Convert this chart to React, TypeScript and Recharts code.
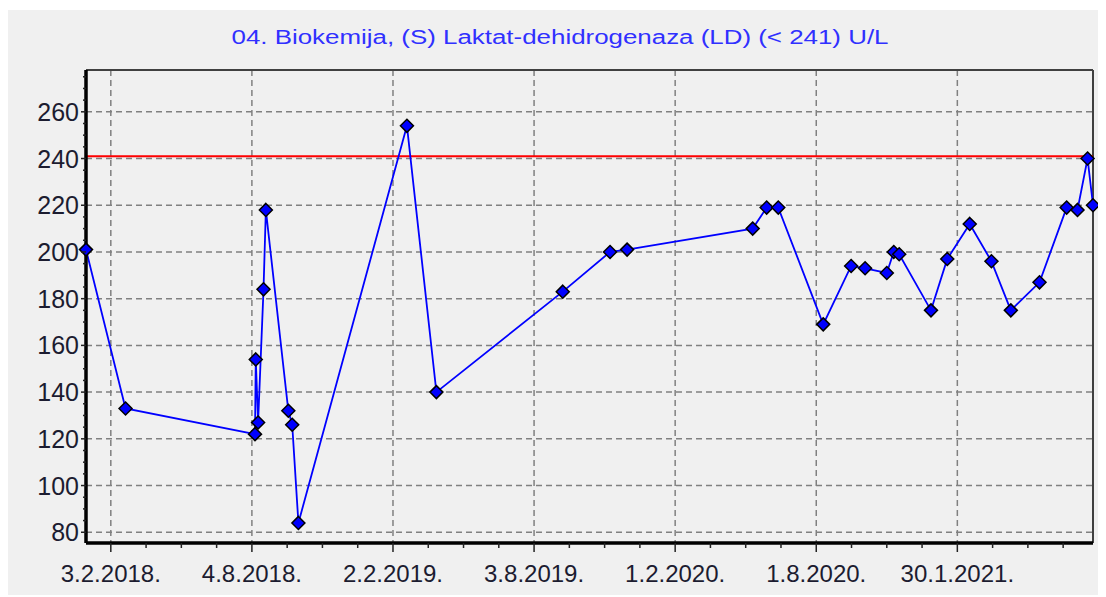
import React from "react";
import {
  CartesianGrid,
  Line,
  LineChart,
  ReferenceLine,
  XAxis,
  YAxis,
} from "recharts";

const title = "04. Biokemija, (S) Laktat-dehidrogenaza (LD) (< 241) U/L";
const upperLimit = 241;

const sampleDates = [
  "2018-01-02", "2018-02-22", "2018-08-08", "2018-08-09", "2018-08-12",
  "2018-08-19", "2018-08-22", "2018-09-20", "2018-09-25", "2018-10-03",
  "2019-02-20", "2019-03-30", "2019-09-09", "2019-11-09", "2019-12-01",
  "2020-05-11", "2020-05-29", "2020-06-13", "2020-08-10", "2020-09-15",
  "2020-10-03", "2020-10-31", "2020-11-09", "2020-11-16", "2020-12-27",
  "2021-01-17", "2021-02-15", "2021-03-15", "2021-04-09", "2021-05-16",
  "2021-06-20", "2021-07-04", "2021-07-17", "2021-07-24",
];
const ldValues = [
  201, 133, 122, 154, 127, 184, 218, 132, 126, 84,
  254, 140, 183, 200, 201, 210, 219, 219, 169, 194,
  193, 191, 200, 199, 175, 197, 212, 196, 175, 187,
  219, 218, 240, 220,
];

const majorTickDates = [
  "2018-02-03", "2018-08-04", "2019-02-02", "2019-08-03",
  "2020-02-01", "2020-08-01", "2021-01-30",
];
const yMajorTicks = [80, 100, 120, 140, 160, 180, 200, 220, 240, 260];
const yDomain = [75.4, 277.9];

const toTime = (s: string) => {
  const [y, m, d] = s.split("-").map(Number);
  return Date.UTC(y, m - 1, d);
};

const data = sampleDates.map((d, i) => ({ t: toTime(d), value: ldValues[i] }));
const majorTimes = majorTickDates.map(toTime);
const majorSet = new Set(majorTimes);
const tMin = data[0].t;
const tMax = data[data.length - 1].t;

// minor ticks split each major interval in 4
const step = majorTimes[1] - majorTimes[0];
const xTicks: number[] = [];
for (let t = majorTimes[0] - step; t <= tMax; t += step / 4) {
  if (t >= tMin) xTicks.push(t);
}
const yTicks: number[] = [];
for (let v = 80; v <= 275; v += 5) yTicks.push(v);

const formatDate = (t: number) => {
  const d = new Date(t);
  return `${d.getUTCDate()}.${d.getUTCMonth() + 1}.${d.getUTCFullYear()}.`;
};

const font = "'Liberation Sans', Arial, sans-serif";

const XTick = (props: any) => {
  const { x, y, payload } = props;
  const major = majorSet.has(payload.value);
  return (
    <g>
      <line x1={x} x2={x} y1={y} y2={y + (major ? 9 : 5)} stroke="#222" strokeWidth={1.5} />
      {major && (
        <text x={x} y={y + 39} textAnchor="middle" fontSize={24} fontFamily={font} fill="#1c1c30">
          {formatDate(payload.value)}
        </text>
      )}
    </g>
  );
};

const YTick = (props: any) => {
  const { x, y, payload } = props;
  const major = payload.value % 20 === 0;
  return (
    <g>
      <line x1={x - (major ? 5 : 3)} x2={x} y1={y} y2={y} stroke="#222" strokeWidth={1.5} />
      {major && (
        <text x={x - 7} y={y} dy="0.36em" textAnchor="end" fontSize={25} fontFamily={font} fill="#1c1c30">
          {payload.value}
        </text>
      )}
    </g>
  );
};

const Diamond = (props: any) => {
  const { cx, cy } = props;
  if (cx == null || cy == null) return <g />;
  const r = 6.5;
  return (
    <polygon
      points={`${cx},${cy - r} ${cx + r},${cy} ${cx},${cy + r} ${cx - r},${cy}`}
      fill="#0000ff"
      stroke="#000"
      strokeWidth={1.5}
    />
  );
};

export default function App() {
  return (
    <div
      style={{
        position: "relative",
        top: 2,
        width: 1098,
        height: 587,
        background: "#f0f0f0",
      }}
    >
      <svg style={{ position: "absolute", left: 0, top: 0 }} width={1098} height={60}>
        <text
          x={552}
          y={34}
          textAnchor="middle"
          fontSize={20}
          fontFamily={font}
          fill="#3030ff"
          textLength={657}
          lengthAdjust="spacingAndGlyphs"
        >
          {title}
        </text>
      </svg>
      <LineChart
        width={1098}
        height={587}
        data={data}
        margin={{ top: 60, right: 13, bottom: 8, left: 8 }}
      >
        <CartesianGrid
          stroke="#808080"
          strokeDasharray="6 4"
          strokeWidth={1.5}
          horizontalValues={yMajorTicks}
          verticalValues={majorTimes}
        />
        <XAxis
          dataKey="t"
          type="number"
          domain={[tMin, tMax]}
          ticks={xTicks}
          interval={0}
          tick={<XTick />}
          tickLine={false}
          tickSize={0}
          tickMargin={0}
          height={46}
          axisLine={{ stroke: "#000", strokeWidth: 3.5 }}
        />
        <YAxis
          type="number"
          domain={yDomain}
          allowDataOverflow
          ticks={yTicks}
          interval={0}
          tick={<YTick />}
          tickLine={false}
          tickSize={0}
          tickMargin={0}
          width={70}
          axisLine={{ stroke: "#000", strokeWidth: 3.5 }}
        />
        <ReferenceLine y={yDomain[1]} stroke="#404040" strokeWidth={2} />
        <ReferenceLine x={tMax} stroke="#404040" strokeWidth={2} />
        <ReferenceLine y={upperLimit} stroke="#ff0000" strokeWidth={2} />
        <Line
          type="linear"
          dataKey="value"
          stroke="#0000ff"
          strokeWidth={1.8}
          dot={(p: any) => <Diamond key={p.index} {...p} />}
          activeDot={false}
          isAnimationActive={false}
        />
      </LineChart>
    </div>
  );
}
